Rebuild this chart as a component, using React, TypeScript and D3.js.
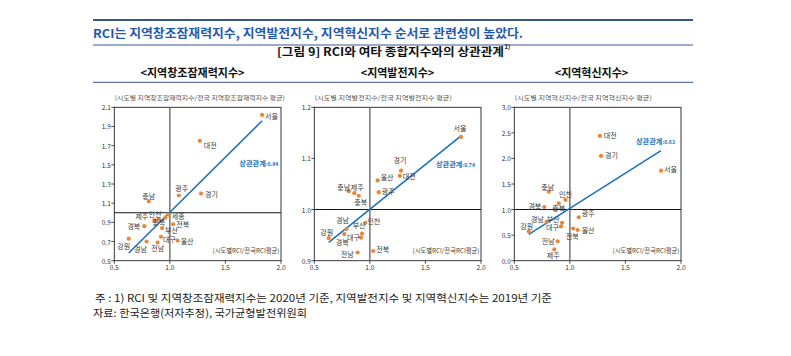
import React from "react";
import * as d3 from "d3";

// ---------- DATA ----------
// Panel 1: 지역창조잠재력지수 vs RCI
const names1 = ["서울", "대전", "경기", "광주", "충남", "제주", "인천", "세종", "충북", "경북", "전북", "부산", "대구", "울산", "강원", "경남", "전남"];
const rci1 = [1.83, 1.27, 1.28, 1.08, 0.81, 0.86, 0.96, 0.99, 0.90, 0.77, 1.03, 0.93, 0.92, 1.07, 0.63, 0.79, 0.89];
const creative = [2.02, 1.75, 1.20, 1.18, 1.12, 0.92, 0.95, 0.98, 0.93, 0.86, 0.88, 0.84, 0.75, 0.71, 0.73, 0.70, 0.69];

// Panel 2: 지역발전지수 vs RCI
const names2 = ["서울", "경기", "대전", "울산", "광주", "충남", "제주", "충북", "인천", "경남", "부산", "대구", "경북", "강원", "전남", "전북"];
const rci2 = [1.82, 1.28, 1.27, 1.07, 1.08, 0.81, 0.86, 0.90, 0.96, 0.79, 0.93, 0.92, 0.77, 0.63, 0.89, 1.03];
const development = [1.142, 1.076, 1.066, 1.057, 1.034, 1.036, 1.032, 1.027, 0.974, 0.962, 0.953, 0.945, 0.952, 0.944, 0.916, 0.919];

// Panel 3: 지역혁신지수 vs RCI
const names3 = ["대전", "경기", "서울", "충남", "인천", "충북", "경북", "광주", "경남", "부산", "대구", "강원", "울산", "전북", "전남", "제주"];
const rci3 = [1.27, 1.28, 1.82, 0.81, 0.96, 0.90, 0.77, 1.08, 0.79, 0.93, 0.92, 0.63, 1.07, 1.03, 0.89, 0.86];
const innovation = [2.44, 2.05, 1.76, 1.35, 1.19, 1.12, 1.05, 0.85, 0.76, 0.74, 0.67, 0.57, 0.60, 0.63, 0.38, 0.22];

const xTicks = [0.5, 1.0, 1.5, 2.0];
const yTicks1 = [0.5, 0.7, 0.9, 1.1, 1.3, 1.5, 1.7, 1.9, 2.1];
const yTicks2 = [0.9, 1.0, 1.1, 1.2];
const yTicks3 = [0.0, 0.5, 1.0, 1.5, 2.0, 2.5, 3.0];

const correlations = [0.84, 0.74, 0.63];
// trend lines: slope, intercept
const trendSlope = [1.149, 0.175, 1.375];
const trendIntercept = [-0.143, 0.8255, -0.3505];

const panelTitles = ["<지역창조잠재력지수>", "<지역발전지수>", "<지역혁신지수>"];
const yAxisTitles = [
  "(시도별 지역창조잠재력지수/전국 지역창조잠재력지수 평균)",
  "(시도별 지역발전지수/전국 지역발전지수 평균)",
  "(시도별 지역혁신지수/전국 지역혁신지수 평균)",
];
const xAxisTitle = "(시도별RCI/전국RCI평균)";
const headline = "RCI는 지역창조잠재력지수, 지역발전지수, 지역혁신지수 순서로 관련성이 높았다.";
const figTitle = "[그림 9] RCI와 여타 종합지수와의 상관관계";
const note1 = "주 : 1) RCI 및 지역창조잠재력지수는 2020년 기준, 지역발전지수 및 지역혁신지수는 2019년 기준";
const note2 = "자료: 한국은행(저자추정), 국가균형발전위원회";

// ---------- LAYOUT (label placement, px offsets) ----------
type LP = [number, number, "start" | "middle" | "end"];
const labels1: Record<string, LP> = {
  서울: [3, 1, "start"], 대전: [4, 4, "start"], 경기: [4, 0, "start"], 광주: [3, -8, "middle"],
  충남: [0, -5, "middle"], 제주: [-6, -4, "end"], 인천: [-4, -4, "end"], 세종: [3, 1, "start"],
  충북: [0, 3, "middle"], 경북: [-4, 0, "end"], 전북: [3, 0, "start"], 부산: [3, 2, "start"],
  대구: [2, 2, "start"], 울산: [3, 0, "start"], 강원: [-5, 7, "middle"], 경남: [-6, 7, "middle"],
  전남: [0, 6, "middle"],
};
const labels2: Record<string, LP> = {
  서울: [-1, -9, "middle"], 경기: [-1, -11, "middle"], 대전: [3, 0, "start"], 울산: [3, -3, "start"],
  광주: [3, -1, "start"], 충남: [-5, -4, "middle"], 제주: [3, -6, "middle"], 충북: [2, 6, "middle"],
  인천: [2, -2, "start"], 경남: [-4, -9, "middle"], 부산: [-3, -9, "middle"], 대구: [-1, -1, "end"],
  경북: [-2, 8, "middle"], 강원: [-2, -6, "middle"], 전남: [-4, 1, "end"], 전북: [3, -2, "start"],
};
const labels3: Record<string, LP> = {
  대전: [4, -1, "start"], 경기: [4, -1, "start"], 서울: [3, -2, "start"], 충남: [-1, -5, "middle"],
  인천: [0, -6, "middle"], 충북: [0, 5, "middle"], 경북: [-3, -1, "end"], 광주: [3, -4, "start"],
  경남: [-9, -3, "middle"], 부산: [-9, -4, "middle"], 대구: [-2, 1, "end"], 강원: [-2, -6, "middle"],
  울산: [4, 0, "start"], 전북: [-1, 8, "middle"], 전남: [-3, 0, "end"], 제주: [-1, 6, "middle"],
};

const FONT = "'Noto Sans CJK KR', 'Noto Sans', sans-serif";
const NAVY = "#3A5490";
const ORANGE = "#EC8535";
const BLUE = "#1E72BD";

const W = 791;
const H = 356;
const plotLefts = [114.3, 314.3, 514.3];
const plotW = 166.7;
const plotTop = 107.3;
const plotH = 153.4;

interface PanelProps {
  idx: number;
  names: string[];
  xs: number[];
  ys: number[];
  yDomain: [number, number];
  yTicks: number[];
  yFmt: (v: number) => string;
  labels: Record<string, LP>;
  corrAt: [number, number];
  titleWidth: number;
}

function Panel(p: PanelProps) {
  const L = plotLefts[p.idx];
  const x = d3.scaleLinear().domain([0.5, 2.0]).range([L, L + plotW]);
  const y = d3.scaleLinear().domain(p.yDomain).range([plotTop + plotH, plotTop]);
  const xMin = d3.min(p.xs) as number;
  const xMax = d3.max(p.xs) as number;
  const s = trendSlope[p.idx];
  const b = trendIntercept[p.idx];
  const line = d3.line<number>().x((v) => x(v)).y((v) => y(s * v + b));
  return (
    <g>
      <text x={L + 0.5} y={97} fontSize={6} fill="#555" fontFamily={FONT} dominantBaseline="central"
        textLength={p.titleWidth} lengthAdjust="spacingAndGlyphs">{yAxisTitles[p.idx]}</text>
      <rect x={L} y={plotTop} width={plotW} height={plotH} fill="none" stroke="#222" strokeWidth={0.9} />
      {/* y ticks */}
      {p.yTicks.map((t) => (
        <g key={"y" + t}>
          <line x1={L - 3} x2={L} y1={y(t)} y2={y(t)} stroke="#222" strokeWidth={0.8} />
          <text x={L - 3.5} y={y(t)} fontSize={6.5} fill="#333" fontFamily={FONT} textAnchor="end"
            dominantBaseline="central">{p.yFmt(t)}</text>
        </g>
      ))}
      {/* x ticks */}
      {xTicks.map((t) => (
        <g key={"x" + t}>
          <line x1={x(t)} x2={x(t)} y1={plotTop + plotH} y2={plotTop + plotH + 3} stroke="#222" strokeWidth={0.8} />
          <text x={x(t)} y={plotTop + plotH + 6.5} fontSize={6.5} fill="#333" fontFamily={FONT} textAnchor="middle"
            dominantBaseline="central">{d3.format(".1f")(t)}</text>
        </g>
      ))}
      {/* reference lines at 1.0 */}
      <line x1={x(1)} x2={x(1)} y1={plotTop} y2={plotTop + plotH} stroke="#6a6a6a" strokeWidth={1.4} />
      <line x1={L} x2={L + plotW} y1={y(1)} y2={y(1)} stroke="#1a1a1a" strokeWidth={1.1} />
      {/* trend */}
      <path d={line([xMin, xMax]) || ""} fill="none" stroke={BLUE} strokeWidth={1.6} />
      {/* points */}
      {p.xs.map((v, i) => (
        <circle key={"c" + i} cx={x(v)} cy={y(p.ys[i])} r={2.1} fill={ORANGE} />
      ))}
      {p.xs.map((v, i) => {
        const lp = p.labels[p.names[i]] || [3, 0, "start"];
        return (
          <text key={"t" + i} x={x(v) + lp[0]} y={y(p.ys[i]) + lp[1]} fontSize={7} fill="#3a3a3a"
            fontFamily={FONT} textAnchor={lp[2]} dominantBaseline="central">{p.names[i]}</text>
        );
      })}
      {/* correlation */}
      <text x={x(p.corrAt[0])} y={y(p.corrAt[1])} fontFamily={FONT} fill={BLUE} fontWeight="bold"
        dominantBaseline="central">
        <tspan fontSize={7.2}>상관관계</tspan>
        <tspan fontSize={5.2}>:{correlations[p.idx].toFixed(2)}</tspan>
      </text>
      {/* x axis title */}
      <text x={L + plotW - 1.5} y={plotTop + plotH - 10.4} fontSize={6.3} fill="#444" fontFamily={FONT}
        textAnchor="end" dominantBaseline="central">{xAxisTitle}</text>
    </g>
  );
}

export default function App() {
  const f1 = d3.format(".1f");
  return (
    <svg width={W} height={H} viewBox={`0 0 ${W} ${H}`}
      style={{ position: "absolute", left: 0, top: 0, background: "#fff" }}>
      <rect x={0} y={0} width={W} height={H} fill="#fff" />
      {/* header rules */}
      <line x1={93} x2={693} y1={20} y2={20} stroke={NAVY} strokeWidth={2} />
      <line x1={93} x2={693} y1={45} y2={45} stroke={NAVY} strokeWidth={1} />
      <line x1={93} x2={693} y1={82.3} y2={82.3} stroke={NAVY} strokeWidth={1} />
      <text x={93} y={32.5} fontSize={12} fontWeight="bold" fill="#2358B5" fontFamily={FONT}
        dominantBaseline="central" textLength={430} lengthAdjust="spacingAndGlyphs">{headline}</text>
      <text x={277} y={51} fontSize={11} fontWeight="bold" fill="#111" fontFamily={FONT}
        dominantBaseline="central" textLength={227} lengthAdjust="spacingAndGlyphs">{figTitle}</text>
      <text x={504.5} y={46.5} fontSize={6} fontWeight="bold" fill="#111" fontFamily={FONT}
        dominantBaseline="central">1)</text>
      {[192.5, 397.5, 591.5].map((cx, i) => (
        <text key={i} x={cx} y={72} fontSize={11} fontWeight="bold" fill="#111" fontFamily={FONT}
          textAnchor="middle" dominantBaseline="central">{panelTitles[i]}</text>
      ))}
      <Panel idx={0} names={names1} xs={rci1} ys={creative} yDomain={[0.5, 2.1]} yTicks={yTicks1}
        yFmt={f1} labels={labels1} corrAt={[1.625, 1.516]} titleWidth={170} />
      <Panel idx={1} names={names2} xs={rci2} ys={development} yDomain={[0.9, 1.2]} yTicks={yTicks2}
        yFmt={f1} labels={labels2} corrAt={[1.595, 1.089]} titleWidth={137} />
      <Panel idx={2} names={names3} xs={rci3} ys={innovation} yDomain={[0, 3.0]} yTicks={yTicks3}
        yFmt={f1} labels={labels3} corrAt={[1.595, 2.34]} titleWidth={137} />
      <text x={95} y={297} fontSize={10.5} fill="#222" fontFamily={FONT} dominantBaseline="central"
        textLength={457} lengthAdjust="spacingAndGlyphs">{note1}</text>
      <text x={93} y={312.5} fontSize={10.5} fill="#222" fontFamily={FONT} dominantBaseline="central"
        textLength={214} lengthAdjust="spacingAndGlyphs">{note2}</text>
    </svg>
  );
}
